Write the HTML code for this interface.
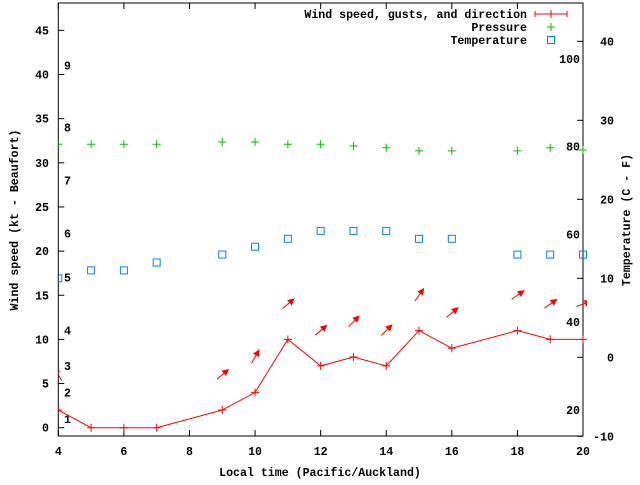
<!DOCTYPE html>
<html><head><meta charset="utf-8"><style>
body{margin:0;background:#fff}
svg text{font-family:"Liberation Mono",monospace;font-weight:bold;font-size:11.6px;fill:#000}
</style></head><body>
<svg id="c" width="640" height="480" xmlns="http://www.w3.org/2000/svg"></svg>
<script>
const hours=[4,5,6,7,9,10,11,12,13,14,15,16,18,19,20];
const windSpeed=[2,0,0,0,2,4,10,7,8,7,11,9,11,10,10];
const windDir=[120,null,null,null,40,60,40,40,45,45,55,40,35,35,20];
const pressure=[32.1,32.1,32.1,32.1,32.35,32.35,32.1,32.1,31.9,31.7,31.35,31.35,31.35,31.7,31.45];
const temperature=[10,11,11,12,13,14,15,16,16,16,15,15,13,13,13];
const xTicks=[4,6,8,10,12,14,16,18,20];
const yTicks=[0,5,10,15,20,25,30,35,40,45];
const y2Ticks=[-10,0,10,20,30,40];
const beaufortLabels=["1","2","3","4","5","6","7","8","9"];
const beaufortPos=[1,4,7,11,17,22,28,34,41];
const fahrLabels=["20","40","60","80","100"];
const fahrVals=[20,40,60,80,100];

const L=58.3,R=583,T=3,B=436;
const X=h=>L+(h-4)*(R-L)/16;
const Y=v=>427.7-v*8.83;
const Y2=c=>357.3-c*7.9;
const svg=document.getElementById('c');
const NS='http://www.w3.org/2000/svg';
function mk(tag,at,name,parent){const e=document.createElementNS(NS,tag);for(const k in at)e.setAttribute(k,at[k]);


(parent||svg).appendChild(e);return e;}
function txt(x,y,s,anchor,name){const t=mk('text',{x:x,y:y,'text-anchor':anchor||'start'},name);t.textContent=s;return t;}

mk('rect',{x:L,y:T,width:R-L,height:B-T,fill:'none',stroke:'#000','stroke-width':1},'plot-border');
xTicks.forEach(h=>{const x=X(h);
mk('line',{x1:x,y1:B,x2:x,y2:B-6,stroke:'#000'},'x-tick');
mk('line',{x1:x,y1:T,x2:x,y2:T+6,stroke:'#000'},'x-tick-top');
txt(x,B+19,String(h),'middle','x-tick-label');});
yTicks.forEach(v=>{const y=Y(v);
mk('line',{x1:L,y1:y,x2:L+6,y2:y,stroke:'#000'},'y-tick');
txt(49,y+4,String(v),'end','y-tick-label');});
y2Ticks.forEach(v=>{const y=Y2(v);
mk('line',{x1:R,y1:y,x2:R-6,y2:y,stroke:'#000'},'y2-tick');
txt(614,y+4,String(v),'end','y2-tick-label');});
beaufortLabels.forEach((s,i)=>txt(64,Y(beaufortPos[i])+4,s,'start','beaufort-label'));
fahrLabels.forEach((s,i)=>txt(580,Y2((fahrVals[i]-32)*5/9)+4,s,'end','fahrenheit-label'));

const yl=txt(0,0,'Wind speed (kt - Beaufort)','middle','y-axis-title');yl.setAttribute('transform','translate(18,220) rotate(-90)');
const y2l=txt(0,0,'Temperature (C - F)','middle','y2-axis-title');y2l.setAttribute('transform','translate(630,220) rotate(-90)');
txt(320,476,'Local time (Pacific/Auckland)','middle','x-axis-title');

const g=mk('g',{'clip-path':'url(#clip)'},'series-group');
const cp=mk('clipPath',{id:'clip'},'clip');mk('rect',{x:L,y:T,width:R-L+4,height:B-T},'clip-rect',cp);
mk('polyline',{points:hours.map((h,i)=>X(h)+','+Y(windSpeed[i])).join(' '),fill:'none',stroke:'#f00'},'wind-line',g);
hours.forEach((h,i)=>{const x=X(h),y=Y(windSpeed[i]);
mk('path',{d:`M${x-4},${y}h8M${x},${y-4}v8`,stroke:'#f00'},'wind-point',g);
if(windDir[i]===null)return;
const ay=Y(windSpeed[i]+4),a=windDir[i]*Math.PI/180,dx=Math.cos(a)*7,dy=-Math.sin(a)*7;
const hx=x+dx,hy=ay+dy,tx=x-dx,ty=ay-dy;
mk('line',{x1:tx,y1:ty,x2:hx,y2:hy,stroke:'#f00'},'wind-direction-arrow',g);
const ux=dx/7,uy=dy/7;
mk('polygon',{points:`${hx+ux*2},${hy+uy*2} ${hx-ux*5-uy*3.5},${hy-uy*5+ux*3.5} ${hx-ux*5+uy*3.5},${hy-uy*5-ux*3.5}`,fill:'#f00'},'wind-arrow-head',g);});
hours.forEach((h,i)=>{const x=X(h),y=Y(pressure[i]);
mk('path',{d:`M${x-4},${y}h8M${x},${y-4}v8`,stroke:'#00c000'},'pressure-point',g);});
hours.forEach((h,i)=>{const x=X(h),y=Y2(temperature[i]);
mk('rect',{x:x-3.5,y:y-3.5,width:7,height:7,fill:'none',stroke:'#0080ff'},'temperature-point',g);});

txt(527,18,'Wind speed, gusts, and direction','end','legend-wind-label');
mk('path',{d:'M535,14h32M535,11v6M567,11v6M551,10v8',stroke:'#f00'},'legend-wind-sample');
txt(527,31,'Pressure','end','legend-pressure-label');
mk('path',{d:'M547,27h8M551,23v8',stroke:'#00c000'},'legend-pressure-sample');
txt(527,44,'Temperature','end','legend-temperature-label');
mk('rect',{x:547.5,y:36.5,width:7,height:7,fill:'none',stroke:'#0080ff'},'legend-temperature-sample');
</script>
</body></html>
